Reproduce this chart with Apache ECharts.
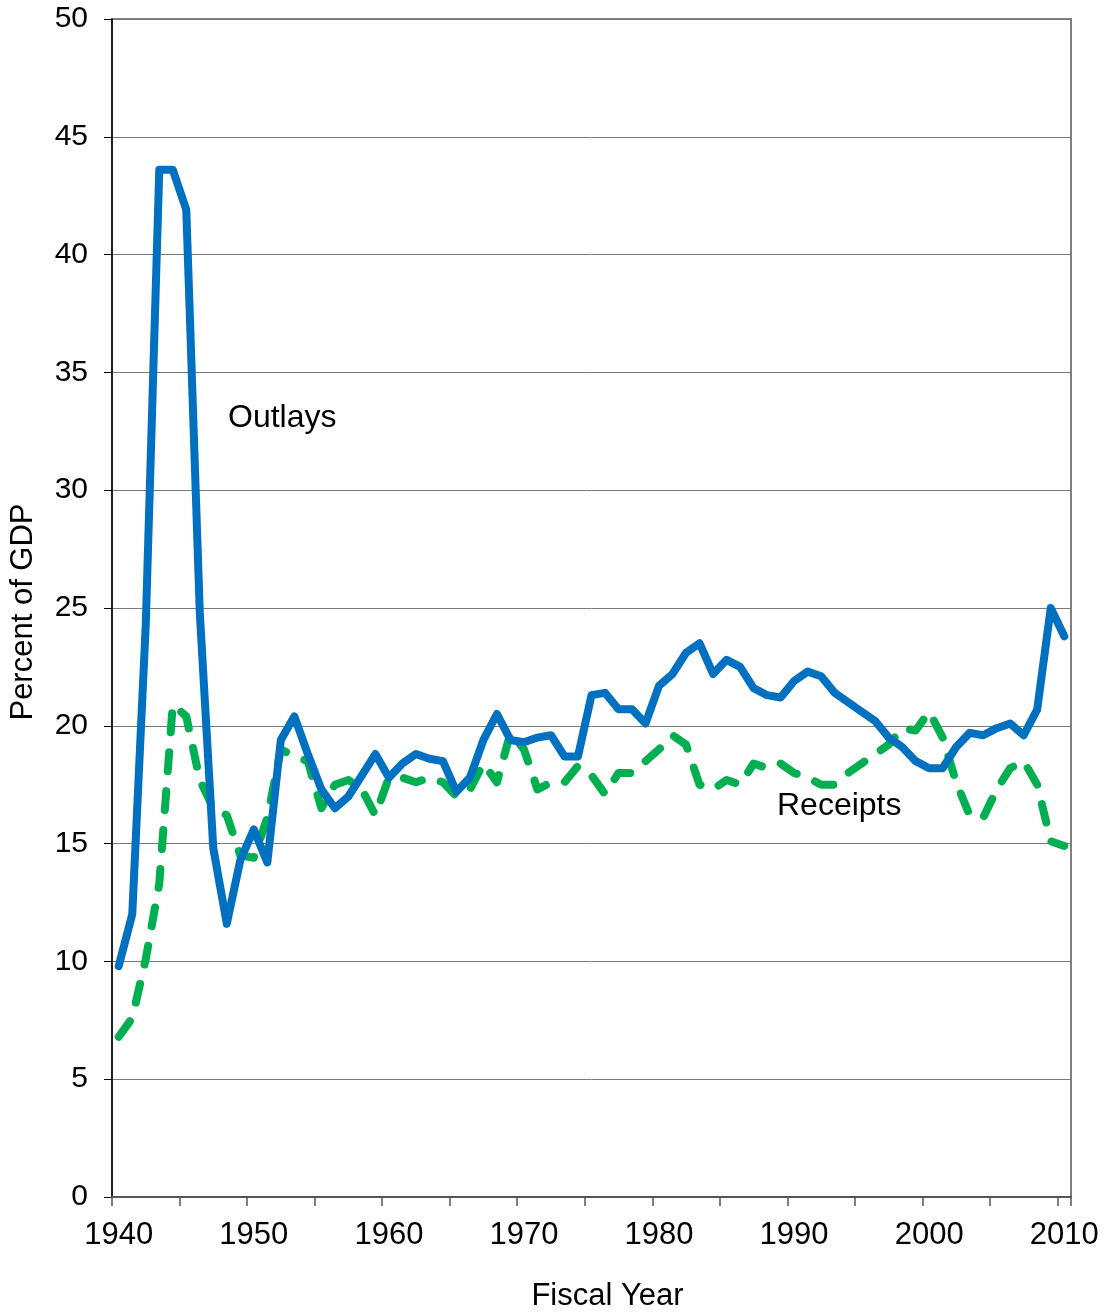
<!DOCTYPE html>
<html>
<head>
<meta charset="utf-8">
<title>Federal Outlays and Receipts, Percent of GDP</title>
<script src="https://cdn.jsdelivr.net/npm/echarts@6/dist/echarts.min.js"></script>
<style>
  html, body { margin: 0; padding: 0; background: #ffffff; overflow: hidden; }
  #chart { width: 1110px; height: 1313px; }
</style>
</head>
<body>
<div id="chart"></div>
<script>
// Fiscal years shown on the category axis
const years = [
  '1940','1941','1942','1943','1944','1945','1946','1947','1948','1949',
  '1950','1951','1952','1953','1954','1955','1956','1957','1958','1959',
  '1960','1961','1962','1963','1964','1965','1966','1967','1968','1969',
  '1970','1971','1972','1973','1974','1975','1976','1977','1978','1979',
  '1980','1981','1982','1983','1984','1985','1986','1987','1988','1989',
  '1990','1991','1992','1993','1994','1995','1996','1997','1998','1999',
  '2000','2001','2002','2003','2004','2005','2006','2007','2008','2009','2010'
];

// Total outlays, percent of GDP
const outlays = [
  9.8, 12.0, 24.3, 43.6, 43.6, 41.9, 24.8, 14.8, 11.6, 14.3,
  15.6, 14.2, 19.4, 20.4, 18.8, 17.3, 16.5, 17.0, 17.9, 18.8,
  17.8, 18.4, 18.8, 18.6, 18.5, 17.2, 17.8, 19.4, 20.5, 19.4,
  19.3, 19.5, 19.6, 18.7, 18.7, 21.3, 21.4, 20.7, 20.7, 20.1,
  21.7, 22.2, 23.1, 23.5, 22.2, 22.8, 22.5, 21.6, 21.3, 21.2,
  21.9, 22.3, 22.1, 21.4, 21.0, 20.6, 20.2, 19.5, 19.1, 18.5,
  18.2, 18.2, 19.1, 19.7, 19.6, 19.9, 20.1, 19.6, 20.7, 25.0, 23.8
];

// Total receipts, percent of GDP
const receipts = [
  6.8, 7.6, 10.1, 13.3, 20.9, 20.4, 17.7, 16.5, 16.2, 14.5,
  14.4, 16.1, 19.0, 18.7, 18.5, 16.5, 17.5, 17.7, 17.3, 16.2,
  17.8, 17.8, 17.6, 17.8, 17.6, 17.0, 17.3, 18.4, 17.6, 19.7,
  19.0, 17.3, 17.6, 17.6, 18.3, 17.9, 17.1, 18.0, 18.0, 18.5,
  19.0, 19.6, 19.2, 17.5, 17.3, 17.7, 17.5, 18.4, 18.2, 18.4,
  18.0, 17.8, 17.5, 17.5, 18.0, 18.4, 18.8, 19.2, 19.9, 19.8,
  20.6, 19.5, 17.6, 16.2, 16.1, 17.3, 18.2, 18.5, 17.5, 15.1, 14.9
];

const FONT = "'Liberation Sans', Arial, Helvetica, sans-serif";

const chart = echarts.init(document.getElementById('chart'), null, { renderer: 'canvas' });

chart.setOption({
  animation: false,
  backgroundColor: '#ffffff',
  grid: {
    left: 112, right: 39, top: 19, bottom: 116,
    outerBoundsMode: 'none',
    show: true,
    borderColor: '#808080',
    borderWidth: 2
  },
  xAxis: {
    type: 'category',
    data: years,
    boundaryGap: true,
    name: 'Fiscal Year',
    nameLocation: 'middle',
    nameGap: 84,
    nameTextStyle: { fontFamily: FONT, fontSize: 31, color: '#000', padding: [0, 0, 0, 32] },
    axisLine: { lineStyle: { color: '#555', width: 2 } },
    axisTick: { show: true, interval: 4, length: 9, lineStyle: { color: '#555', width: 1.5 } },
    axisLabel: { interval: 9, margin: 23, fontFamily: FONT, fontSize: 31, color: '#000' },
    splitLine: { show: false }
  },
  yAxis: {
    type: 'value',
    min: 0, max: 50, interval: 5,
    name: 'Percent of GDP',
    nameLocation: 'middle',
    nameRotate: 90,
    nameGap: 73,
    nameTextStyle: { fontFamily: FONT, fontSize: 31, color: '#000', padding: [0, 8, 0, 0] },
    axisLine: { show: true, lineStyle: { color: '#000', width: 1.5 } },
    axisTick: { show: true, length: 8, lineStyle: { color: '#000', width: 1 } },
    axisLabel: { margin: 24, fontFamily: FONT, fontSize: 30, color: '#000' },
    splitLine: { show: true, lineStyle: { color: '#7a7a7a', width: 1 } }
  },
  series: [
    {
      name: 'Receipts',
      type: 'line',
      data: receipts,
      showSymbol: false,
      smooth: false,
      z: 2,
      lineStyle: {
        color: '#00B050', width: 8,
        type: [19, 20], cap: 'round', join: 'round'
      }
    },
    {
      name: 'Outlays',
      type: 'line',
      data: outlays,
      showSymbol: false,
      smooth: false,
      z: 3,
      lineStyle: { color: '#0070C0', width: 8, cap: 'round', join: 'round' }
    }
  ],
  graphic: [
    {
      type: 'text', left: 228, top: 402,
      style: { text: 'Outlays', fontFamily: FONT, fontSize: 32, fill: '#000' }
    },
    {
      type: 'text', left: 777, top: 790,
      style: { text: 'Receipts', fontFamily: FONT, fontSize: 32, fill: '#000' }
    }
  ]
});
</script>
</body>
</html>
